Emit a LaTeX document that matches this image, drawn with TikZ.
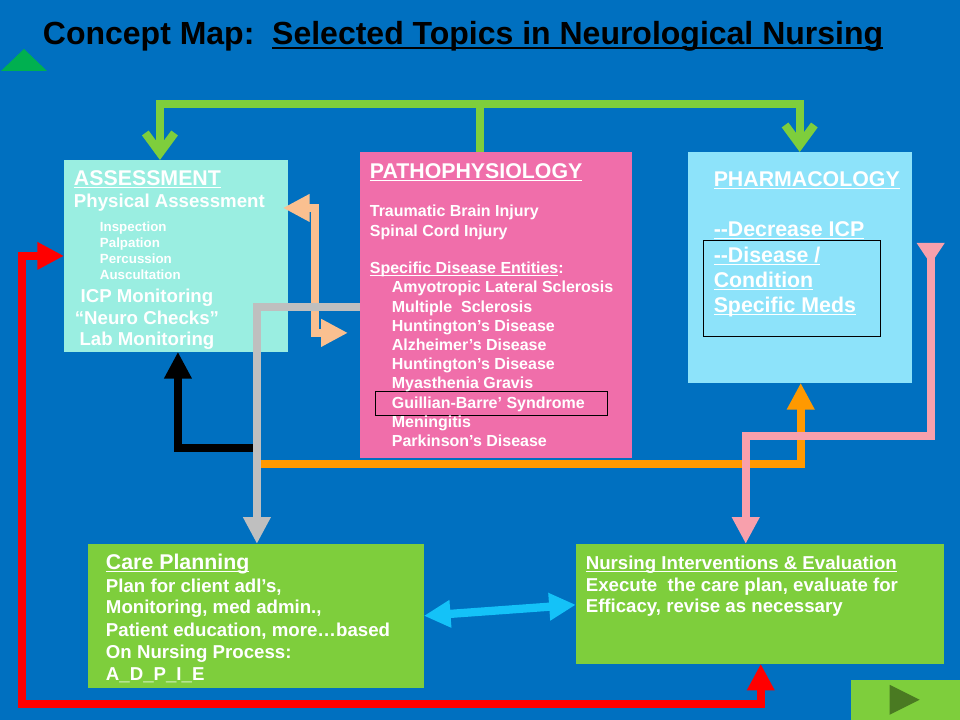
\documentclass[tikz,border=0pt]{standalone}
\usepackage{fontspec}
\setmainfont{Liberation Sans}
\usetikzlibrary{arrows.meta}
\definecolor{bgblue}{HTML}{0070C0}
\definecolor{assesscol}{HTML}{9AEEE1}
\definecolor{pathocol}{HTML}{F06EAA}
\definecolor{pharmcol}{HTML}{8DE3FA}
\definecolor{boxgreen}{HTML}{7ECE3C}
\definecolor{peachcol}{HTML}{FAC090}
\definecolor{graycol}{HTML}{BFBFBF}
\definecolor{orangecol}{HTML}{FF9900}
\definecolor{pinkcol}{HTML}{F8A0AC}
\definecolor{cyancol}{HTML}{14C2F8}
\definecolor{redcol}{HTML}{FF0000}
\definecolor{tricol}{HTML}{00B050}
\definecolor{navtricol}{HTML}{4A7A22}
\newcommand\ulx[1]{\sbox0{#1}\rlap{\rule[-0.12em]{\wd0}{0.07em}}\usebox0}
\newcommand\dd{\mbox{-}\mbox{-}}
\tikzset{
  rect/.style={rectangle, inner sep=0pt, outer sep=0pt, anchor=north west},
  txt/.style={inner sep=0pt, outer sep=0pt, anchor=base west, text=white},
  ctxt/.style={inner sep=0pt, outer sep=0pt, anchor=base, text=white},
  fA/.style={font=\fontsize{24pt}{29pt}\selectfont\bfseries},
  fB/.style={font=\fontsize{16pt}{19pt}\selectfont\bfseries},
  fC/.style={font=\fontsize{14pt}{17pt}\selectfont\bfseries},
  fD/.style={font=\fontsize{12pt}{14pt}\selectfont\bfseries},
  fE/.style={font=\fontsize{10pt}{12pt}\selectfont\bfseries},
  conn/.style={line width=6.2pt, line join=miter, >={Triangle[length=20pt,width=19.5pt]}},
}
\begin{document}
\begin{tikzpicture}[x=0.75pt, y=-0.75pt]
\fill[bgblue] (0,0) rectangle (960,720);
% top-left triangle
\fill[tricol] (1,71) -- (24,49) -- (47,71) -- cycle;
% title
\node[txt, fA, text=black] (title) at (43,45) {Concept Map:\ \ \ulx{Selected Topics in Neurological Nursing}};

% boxes
\node[rect, fill=assesscol, minimum width=168pt, minimum height=144pt] (assess) at (64,160) {};
\node[rect, fill=pathocol, minimum width=204pt, minimum height=229.5pt] (patho) at (360,152) {};
\node[rect, fill=pharmcol, minimum width=168pt, minimum height=173.25pt] (pharm) at (688,152) {};
\node[rect, fill=boxgreen, minimum width=252pt, minimum height=108pt] (care) at (88,544) {};
\node[rect, fill=boxgreen, minimum width=276pt, minimum height=90pt] (nurse) at (576,544) {};
\node[rect, fill=boxgreen, minimum width=82pt, minimum height=30pt] (nav) at (851,680) {};
\fill[navtricol] (890,685) -- (920,700) -- (890,715) -- cycle;
\node[rect, draw=black, line width=0.8pt, minimum width=174pt, minimum height=18pt] (gbframe) at (376,392) {};
\node[rect, draw=black, line width=0.8pt, minimum width=132.75pt, minimum height=72pt] (medframe) at (704,241) {};

% assessment text
\node[txt, fB] (a1) at (74,186) {\ulx{ASSESSMENT}};
\node[txt, fC] (a2) at (74,208) {Physical Assessment};
\node[txt, fE] (a3) at (100,232) {Inspection};
\node[txt, fE] (a4) at (100,248) {Palpation};
\node[txt, fE] (a5) at (100,264) {Percussion};
\node[txt, fE] (a6) at (100,280) {Auscultation};
\node[ctxt, fC] (a7) at (147,303) {ICP Monitoring};
\node[ctxt, fC] (a8) at (147,325) {“Neuro Checks”};
\node[ctxt, fC] (a9) at (147,346) {Lab Monitoring};

% pathophysiology text
\node[txt, fB] (p1) at (370,179) {\ulx{PATHOPHYSIOLOGY}};
\node[txt, fD] (p2) at (370,217) {Traumatic Brain Injury};
\node[txt, fD] (p3) at (370,237) {Spinal Cord Injury};
\node[txt, fD] (p4) at (370,274) {\ulx{Specific Disease Entities}:};
\node[txt, fD] (d1) at (392,293) {Amyotropic Lateral Sclerosis};
\node[txt, fD] (d2) at (392,312.2) {Multiple \ Sclerosis};
\node[txt, fD] (d3) at (392,331.4) {Huntington’s Disease};
\node[txt, fD] (d4) at (392,350.6) {Alzheimer’s Disease};
\node[txt, fD] (d5) at (392,369.8) {Huntington’s Disease};
\node[txt, fD] (d6) at (392,389) {Myasthenia Gravis};
\node[txt, fD] (d7) at (392,408.2) {Guillian-Barre’ Syndrome};
\node[txt, fD] (d8) at (392,427.4) {Meningitis};
\node[txt, fD] (d9) at (392,446.6) {Parkinson’s Disease};

% pharmacology text
\node[txt, fB] (m1) at (714,187) {\ulx{PHARMACOLOGY}};
\node[txt, fB] (m2) at (714,237) {\ulx{\dd Decrease ICP}};
\node[txt, fB] (m3) at (714,263) {\ulx{\dd Disease /}};
\node[txt, fB] (m4) at (714,288) {\ulx{Condition}};
\node[txt, fB] (m5) at (714,313) {\ulx{Specific Meds}};

% care planning text
\node[txt, fB] (c1) at (106,570) {\ulx{Care Planning}};
\node[txt, fC] (c2) at (106,593) {Plan for client adl’s,};
\node[txt, fC] (c3) at (106,614) {Monitoring, med admin.,};
\node[txt, fC] (c4) at (106,637) {Patient education, more…based};
\node[txt, fC] (c5) at (106,659) {On Nursing Process:};
\node[txt, fC] (c6) at (106,681) {A\_D\_P\_I\_E};

% nursing interventions text
\node[txt, fC] (n1) at (586,570) {\ulx{Nursing Interventions \& Evaluation}};
\node[txt, fC] (n2) at (586,592) {Execute \ the care plan, evaluate for};
\node[txt, fC] (n3) at (586,613) {Efficacy, revise as necessary};

% connector free ends
\coordinate (pinkstart) at (931,243);
\coordinate (grayturnA) at (257,448);
\coordinate (grayturnB) at (257,464);

% connectors
\begin{scope}[conn]
\draw[boxgreen] (patho.north -| 480,0) -- (480,101);
\draw[boxgreen, -{Straight Barb[length=15pt,width=22pt]}] (480,104) -- (160,104) -- (assess.north -| 160,0);
\draw[boxgreen, -{Straight Barb[length=15pt,width=22pt]}] (480,104) -- (800,104) -- (pharm.north -| 800,0);
\draw[peachcol, <->, shorten <=-3.75pt, shorten >=9pt] (assess.east |- 0,208) -- (315,208) -- (315,333) -- (patho.west |- 0,333);
\draw[black, ->] (grayturnA) -- (178,448) -- (assess.south -| 178,0);
\draw[orangecol, ->] (grayturnB) -- (801,464) -- (pharm.south -| 801,0);
\draw[pinkcol, {Triangle[reversed,length=16pt,width=20pt]}->] (pinkstart) -- (931,436) -- (746,436) -- (nurse.north -| 746,0);
\draw[graycol, ->] (patho.west |- 0,307) -- (257,307) -- (care.north -| 257,0);
\draw[cyancol, <->] (care.east |- 0,616) -- (nurse.west |- 0,605);
\draw[redcol, <->] (nurse.south -| 761,0) -- (761,704) -- (22,704) -- (22,256) -- (assess.west |- 0,256);
\end{scope}
\end{tikzpicture}
\end{document}
